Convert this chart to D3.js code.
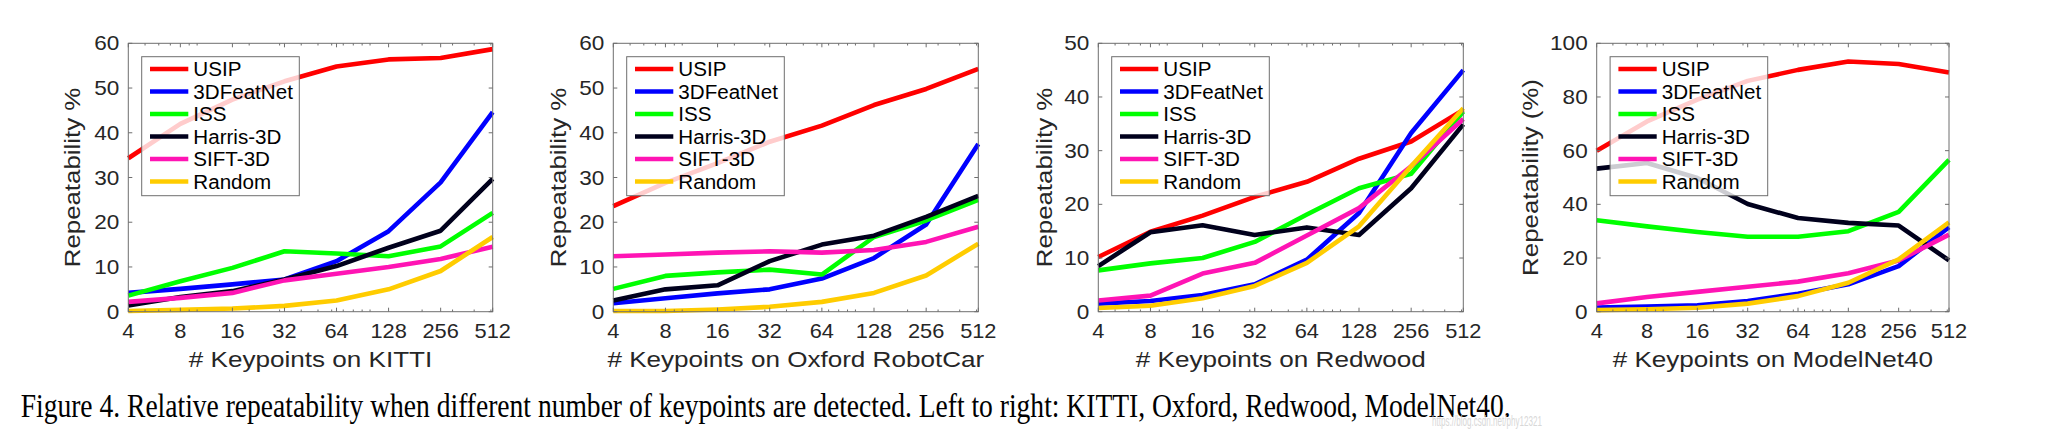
<!DOCTYPE html>
<html>
<head>
<meta charset="utf-8">
<script src="https://cdn.jsdelivr.net/npm/d3@7"></script>
<style>
  html, body { margin: 0; padding: 0; background: #fff; }
  svg { display: block; }
</style>
</head>
<body>
<svg id="chart" width="2047" height="441"></svg>
<script>
// ---------------- data ----------------
const keypoints = [4, 8, 16, 32, 64, 128, 256, 512];
const xTickLabels = ["4", "8", "16", "32", "64", "128", "256", "512"];
const xMinorTicks = [5, 6, 7, 9, 10, 20, 30, 40, 50, 60, 70, 80, 90, 100, 200, 300, 400, 500];
const methods = ["USIP", "3DFeatNet", "ISS", "Harris-3D", "SIFT-3D", "Random"];
const methodColors = ["#ff0000", "#0000ff", "#00ff00", "#00001c", "#ff14b4", "#ffcc00"];

const kittiUSIP      = [34.3, 42.0, 47.4, 51.5, 54.8, 56.4, 56.7, 58.7];
const kittiFeatNet   = [4.2, 5.1, 6.1, 7.2, 11.3, 18.0, 28.9, 44.6];
const kittiISS       = [3.6, 6.8, 9.8, 13.5, 13.0, 12.4, 14.6, 22.1];
const kittiHarris    = [1.4, 3.3, 4.6, 7.2, 10.2, 14.3, 18.1, 29.7];
const kittiSIFT      = [2.2, 3.1, 4.2, 7.0, 8.5, 10.0, 11.8, 14.5];
const kittiRandom    = [0.15, 0.4, 0.7, 1.3, 2.5, 5.0, 9.1, 16.7];

const oxfordUSIP     = [23.6, 28.8, 33.2, 38.0, 41.6, 46.2, 49.8, 54.3];
const oxfordFeatNet  = [1.9, 3.0, 4.1, 5.0, 7.4, 12.0, 19.5, 37.5];
const oxfordISS      = [5.1, 8.0, 8.8, 9.4, 8.3, 16.7, 20.4, 25.0];
const oxfordHarris   = [2.5, 5.0, 5.9, 11.3, 15.0, 17.0, 21.2, 25.9];
const oxfordSIFT     = [12.4, 12.8, 13.2, 13.5, 13.2, 13.8, 15.6, 19.0];
const oxfordRandom   = [0.15, 0.15, 0.5, 1.1, 2.2, 4.2, 8.1, 15.2];

const redwoodUSIP    = [10.2, 14.9, 17.9, 21.4, 24.2, 28.5, 31.7, 37.6];
const redwoodFeatNet = [1.5, 2.0, 3.1, 5.1, 9.7, 18.4, 33.3, 45.0];
const redwoodISS     = [7.7, 9.0, 10.0, 13.0, 18.1, 23.0, 25.7, 37.3];
const redwoodHarris  = [8.5, 14.8, 16.1, 14.3, 15.7, 14.3, 23.0, 34.9];
const redwoodSIFT    = [2.1, 3.0, 7.1, 9.1, 14.2, 19.3, 27.1, 35.9];
const redwoodRandom  = [0.7, 1.1, 2.5, 4.8, 9.1, 15.9, 27.1, 37.9];

const modelnetUSIP    = [60.0, 70.9, 79.0, 86.0, 90.1, 93.2, 92.3, 89.1];
const modelnetFeatNet = [1.5, 1.9, 2.4, 4.0, 6.7, 10.2, 17.0, 31.5];
const modelnetISS     = [34.1, 31.8, 29.7, 27.9, 27.9, 30.0, 37.2, 56.6];
const modelnetHarris  = [53.3, 55.4, 49.8, 40.1, 34.9, 33.1, 32.1, 19.1];
const modelnetSIFT    = [3.1, 5.5, 7.4, 9.3, 11.2, 14.3, 19.1, 28.7];
const modelnetRandom  = [0.6, 0.9, 1.5, 3.0, 5.8, 10.8, 19.5, 33.3];

const panelXLabels = ["# Keypoints on KITTI", "# Keypoints on Oxford RobotCar", "# Keypoints on Redwood", "# Keypoints on ModelNet40"];
const panelYLabels = ["Repeatability %", "Repeatability %", "Repeatability %", "Repeatability (%)"];
const panelYMax = [60, 60, 50, 100];
const yTicksA = [0, 10, 20, 30, 40, 50, 60];
const yTicksB = [0, 10, 20, 30, 40, 50];
const yTicksC = [0, 20, 40, 60, 80, 100];
const captionText = "Figure 4. Relative repeatability when different number of keypoints are detected. Left to right: KITTI, Oxford, Redwood, ModelNet40.";
const watermarkText = "https://blog.csdn.net/phy12321";

// ---------------- layout ----------------
const panels = [
  { left: 128.3, right: 492.7, yTicks: yTicksA, ylabOff: 48.3,
    series: [kittiUSIP, kittiFeatNet, kittiISS, kittiHarris, kittiSIFT, kittiRandom] },
  { left: 613.3, right: 978.3, yTicks: yTicksA, ylabOff: 47.3,
    series: [oxfordUSIP, oxfordFeatNet, oxfordISS, oxfordHarris, oxfordSIFT, oxfordRandom] },
  { left: 1098.3, right: 1463.3, yTicks: yTicksB, ylabOff: 46.6,
    series: [redwoodUSIP, redwoodFeatNet, redwoodISS, redwoodHarris, redwoodSIFT, redwoodRandom] },
  { left: 1596.7, right: 1949, yTicks: yTicksC, ylabOff: 58.6,
    series: [modelnetUSIP, modelnetFeatNet, modelnetISS, modelnetHarris, modelnetSIFT, modelnetRandom] }
];
const plotTop = 43.3, plotBottom = 311.7;
const axisColor = "#6e6e6e";
const textColor = "#262626";
const sansFont = "'Liberation Sans', Arial, Helvetica, sans-serif";
const serifFont = "'Liberation Serif', 'Times New Roman', serif";

const svg = d3.select("#chart");
svg.append("rect").attr("width", 2047).attr("height", 441).attr("fill", "#fff");

function stretchedText(g, x, y, txt, size, sx, anchor, rotate) {
  return g.append("text")
    .attr("transform", `translate(${x},${y})` + (rotate ? ` rotate(${rotate})` : "") + ` scale(${sx},1)`)
    .attr("x", 0).attr("y", 0)
    .attr("font-family", sansFont)
    .attr("font-size", size)
    .attr("fill", textColor)
    .attr("text-anchor", anchor)
    .text(txt);
}

panels.forEach((p, pi) => {
  const g = svg.append("g");
  const x = d3.scaleLog().base(2).domain([4, 512]).range([p.left, p.right]);
  const y = d3.scaleLinear().domain([0, panelYMax[pi]]).range([plotBottom, plotTop]);

  // data lines
  const line = d3.line().x((d, i) => x(keypoints[i])).y(d => y(d));
  const clipId = "clip" + pi;
  svg.append("clipPath").attr("id", clipId).append("rect")
    .attr("x", p.left - 2).attr("y", plotTop - 3).attr("width", p.right - p.left + 4).attr("height", plotBottom - plotTop + 6);
  const lg = g.append("g").attr("clip-path", `url(#${clipId})`);
  p.series.forEach((vals, si) => {
    lg.append("path")
      .attr("d", line(vals))
      .attr("fill", "none")
      .attr("stroke", methodColors[si])
      .attr("stroke-width", 4.6)
      .attr("stroke-linejoin", "round")
      .attr("stroke-linecap", "butt");
  });

  // axes box
  const ag = g.append("g").attr("stroke", axisColor).attr("stroke-width", 1).attr("fill", "none");
  ag.append("rect").attr("x", p.left).attr("y", plotTop).attr("width", p.right - p.left).attr("height", plotBottom - plotTop);

  keypoints.forEach(v => {
    const xx = x(v);
    ag.append("line").attr("x1", xx).attr("x2", xx).attr("y1", plotBottom).attr("y2", plotBottom - 4);
    ag.append("line").attr("x1", xx).attr("x2", xx).attr("y1", plotTop).attr("y2", plotTop + 4);
  });
  xMinorTicks.forEach(v => {
    const xx = x(v);
    ag.append("line").attr("x1", xx).attr("x2", xx).attr("y1", plotBottom).attr("y2", plotBottom - 2.2);
    ag.append("line").attr("x1", xx).attr("x2", xx).attr("y1", plotTop).attr("y2", plotTop + 2.2);
  });
  p.yTicks.forEach(v => {
    const yy = y(v);
    ag.append("line").attr("x1", p.left).attr("x2", p.left + 4).attr("y1", yy).attr("y2", yy);
    ag.append("line").attr("x1", p.right).attr("x2", p.right - 4).attr("y1", yy).attr("y2", yy);
  });

  // tick labels
  keypoints.forEach((v, i) => {
    stretchedText(g, x(v), plotBottom + 26, xTickLabels[i], 20, 1.09, "middle");
  });
  p.yTicks.forEach(v => {
    stretchedText(g, p.left - 9, y(v) + 7.1, String(v), 20, 1.13, "end");
  });

  // axis labels
  stretchedText(g, (p.left + p.right) / 2, 366.7, panelXLabels[pi], 22.3, 1.17, "middle");
  stretchedText(g, p.left - p.ylabOff, (plotTop + plotBottom) / 2, panelYLabels[pi], 22.3, 1.16, "middle", -90);

  // legend
  const bx = p.left + 13.4, by = plotTop + 13.4;
  const leg = g.append("g");
  leg.append("rect").attr("x", bx).attr("y", by).attr("width", 157.6).attr("height", 139)
    .attr("fill", "#fff").attr("fill-opacity", 0.8)
    .attr("stroke", axisColor).attr("stroke-width", 1);
  methods.forEach((m, i) => {
    const ly = by + 12.3 + i * 22.5;
    leg.append("line").attr("x1", bx + 8.3).attr("x2", bx + 46.6).attr("y1", ly).attr("y2", ly)
      .attr("stroke", methodColors[i]).attr("stroke-width", 4.6);
    stretchedText(leg, bx + 51.6, ly + 7.1, m, 20, 1.03, "start").attr("fill", "#000");
  });
});

// caption
svg.append("text")
  .attr("x", 20.7).attr("y", 416.7)
  .attr("font-family", serifFont)
  .attr("font-size", 32.7)
  .attr("fill", "#000")
  .attr("textLength", 1490)
  .attr("lengthAdjust", "spacingAndGlyphs")
  .text(captionText);

svg.append("text")
  .attr("x", 1432).attr("y", 426)
  .attr("font-family", sansFont)
  .attr("font-size", 15)
  .attr("fill", "#d8d8d8")
  .attr("textLength", 110)
  .attr("lengthAdjust", "spacingAndGlyphs")
  .text(watermarkText);
</script>
</body>
</html>
